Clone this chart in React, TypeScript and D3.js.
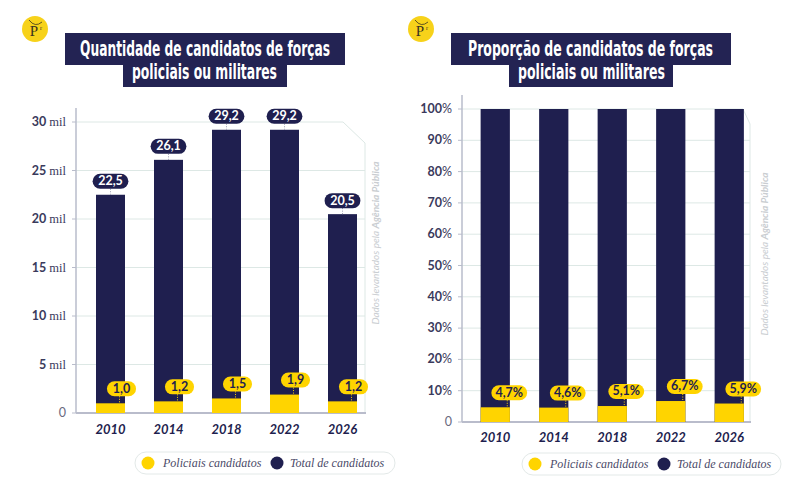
import React from 'react';
import * as d3 from 'd3';

const years = ['2010', '2014', '2018', '2022', '2026'];
const totalCandidatos = [22.5, 26.1, 29.2, 29.2, 20.5]; // mil
const policiaisCandidatos = [1.0, 1.2, 1.5, 1.9, 1.2]; // mil
const proporcaoPoliciais = [4.7, 4.6, 5.1, 6.7, 5.9]; // %
const proporcaoTotal = [100, 100, 100, 100, 100];
const countTicks = [0, 5, 10, 15, 20, 25, 30];
const pctTicks = [0, 10, 20, 30, 40, 50, 60, 70, 80, 90, 100];
const legendLabels = ['Policiais candidatos', 'Total de candidatos'];

const NAVY = '#1f1f4f';
const YELLOW = '#ffd400';
const GRID = '#dde8e5';
const AXIS = '#b9bccb';
const TICK_TXT = '#3a3a5c';

const fmt = (v: number) => v.toFixed(1).replace('.', ',');

const Pill = ({ cx, bottom, label, fill, color }: any) => {
  const w = label.length * 6.7 + 9;
  const h = 15;
  return (
    <g>
      <rect x={cx - w / 2} y={bottom - h} width={w} height={h} rx={h / 2} fill={fill} />
      <text x={cx} y={bottom - 3.6} textAnchor="middle" fontFamily="Lato, sans-serif"
        fontWeight="bold" fontSize={12.5} fill={color}>{label}</text>
    </g>
  );
};

const Logo = ({ cx, cy }: any) => (
  <g>
    <circle cx={cx} cy={cy} r={13} fill="#f7d21a" />
    <path d={`M${cx - 6},${cy - 9} Q${cx},${cy - 1} ${cx + 7},${cy - 7}`} fill="none" stroke="#3a3320" strokeWidth={0.8} />
    <text x={cx - 1} y={cy + 7} textAnchor="middle" fontFamily="'Liberation Serif', serif" fontSize={15} fill="#3a3320">P</text>
    <text x={cx + 6} y={cy + 1} textAnchor="middle" fontFamily="'Liberation Serif', serif" fontSize={6} fill="#3a3320">r</text>
  </g>
);

const Title = ({ box1, box2, line1, line2 }: any) => (
  <g>
    <rect x={box1[0]} y={33} width={box1[1] - box1[0]} height={32} fill="#232353" />
    <rect x={box2[0]} y={64} width={box2[1] - box2[0]} height={23} fill="#232353" />
    <text x={line1[0]} y={56} textLength={line1[1] - line1[0]} lengthAdjust="spacingAndGlyphs"
      fontFamily="'DejaVu Sans Condensed', 'Liberation Sans Narrow', sans-serif" fontWeight="bold"
      fontSize={21} fill="#fff">{line1[2]}</text>
    <text x={line2[0]} y={79} textLength={line2[1] - line2[0]} lengthAdjust="spacingAndGlyphs"
      fontFamily="'DejaVu Sans Condensed', 'Liberation Sans Narrow', sans-serif" fontWeight="bold"
      fontSize={21} fill="#fff">{line2[2]}</text>
  </g>
);

const Legend = ({ x0, x1, y }: any) => {
  const c1 = x0 + 13;
  const c2 = x0 + 142;
  return (
    <g>
      <rect x={x0} y={y - 11} width={x1 - x0} height={22} rx={11} fill="#fff" stroke="#e3e9e8" />
      <circle cx={c1} cy={y} r={6.5} fill={YELLOW} />
      <text x={c1 + 15} y={y + 4} fontFamily="'Liberation Serif', serif" fontStyle="italic" fontSize={12}
        fill="#4a4a68">{legendLabels[0]}</text>
      <circle cx={c2} cy={y} r={6.5} fill={NAVY} />
      <text x={c2 + 13} y={y + 4} fontFamily="'Liberation Serif', serif" fontStyle="italic" fontSize={12}
        fill="#4a4a68">{legendLabels[1]}</text>
    </g>
  );
};

const Source = ({ x, y }: any) => (
  <text transform={`translate(${x},${y}) rotate(-90)`} textAnchor="middle" fontFamily="Lato, sans-serif"
    fontStyle="italic" fontSize={10} fill="#c9cdd1">
    Dados levantados pela <tspan fontWeight="bold">Agência Pública</tspan>
  </text>
);

const Panel = ({ axisX, xRange, yRange, domainMax, ticks, tickLabel, totals, parts, totalLabels,
  partLabels, frameX, frameTopX, frameTopY, pillOffset, yearY }: any) => {
  const x = d3.scaleBand<string>().domain(years).range(xRange).paddingInner(0.5).paddingOuter(0.25);
  const y = d3.scaleLinear().domain([0, domainMax]).range(yRange);
  const bw = x.bandwidth();
  const top = y(domainMax);
  return (
    <g>
      {ticks.map((t: number) => (
        <g key={t}>
          {t > 0 && (
            <line x1={axisX} x2={t === domainMax ? frameTopX : frameX} y1={y(t)} y2={y(t)} stroke={GRID} strokeWidth={1} />
          )}
          <line x1={axisX - 4} x2={axisX} y1={y(t)} y2={y(t)} stroke={AXIS} />
          <text x={axisX - 10} y={y(t) + 4} textAnchor="end" fontSize={12.5} fill={TICK_TXT}>
            {tickLabel(t)}
          </text>
        </g>
      ))}
      <path d={`M${frameTopX},${top} L${frameX},${frameTopY} L${frameX},${y(0)}`} fill="none" stroke={GRID} />
      <line x1={axisX} x2={axisX} y1={top - 14} y2={y(0)} stroke={AXIS} strokeWidth={1.5} />
      <line x1={axisX} x2={frameX + 1} y1={y(0)} y2={y(0)} stroke={AXIS} strokeWidth={2} />
      {years.map((yr, i) => {
        const bx = x(yr) as number;
        const cx = bx + bw / 2;
        return (
          <g key={yr}>
            <rect x={bx} y={y(totals[i])} width={bw} height={y(0) - y(totals[i])} fill={NAVY} />
            <rect x={bx} y={y(parts[i])} width={bw} height={y(0) - y(parts[i])} fill={YELLOW} />
            {totalLabels && (
              <g>
                <line x1={cx} x2={cx} y1={y(totals[i]) - 6} y2={y(totals[i])} stroke="#9a9ab0" strokeDasharray="1,1.5" />
                <Pill cx={cx} bottom={y(totals[i]) - 6} label={totalLabels[i]} fill={NAVY} color="#fff" />
              </g>
            )}
            <line x1={cx + pillOffset - 2} x2={cx + pillOffset - 2} y1={y(parts[i]) - 7} y2={y(parts[i])}
              stroke={YELLOW} strokeDasharray="1,1.5" />
            <Pill cx={cx + pillOffset} bottom={y(parts[i]) - 7} label={partLabels[i]} fill={YELLOW} color={NAVY} />
            <text x={cx} y={yearY} textAnchor="middle" fontFamily="Lato, sans-serif" fontWeight="bold"
              fontStyle="italic" fontSize={13} fill={NAVY}>{yr}</text>
          </g>
        );
      })}
    </g>
  );
};

export default function App() {
  return (
    <svg width={800} height={500} style={{ display: 'block', margin: '-8px', background: '#fff' }}>
      <Logo cx={35} cy={29} />
      <Logo cx={421} cy={29} />
      <Title box1={[65, 345]} box2={[123, 287]}
        line1={[80, 330, 'Quantidade de candidatos de forças']} line2={[132, 277, 'policiais ou militares']} />
      <Title box1={[451, 731]} box2={[509, 673]}
        line1={[468, 713, 'Proporção de candidatos de forças']} line2={[518, 665, 'policiais ou militares']} />

      <Panel axisX={76} xRange={[81.5, 371.5]} yRange={[413, 122]} domainMax={30} ticks={countTicks}
        tickLabel={(t: number) => t === 0 ? <tspan fontFamily="Lato, sans-serif" fill="#6a6a80">0</tspan> : (
          <>
            <tspan fontFamily="Lato, sans-serif" fontWeight="bold">{t}</tspan>
            <tspan fontFamily="'Liberation Serif', serif" dx={3}>mil</tspan>
          </>
        )}
        totals={totalCandidatos} parts={policiaisCandidatos}
        totalLabels={totalCandidatos.map(fmt)} partLabels={policiaisCandidatos.map(fmt)}
        frameX={365} frameTopX={343} frameTopY={143} pillOffset={11} yearY={434} />

      <Panel axisX={462} xRange={[466, 758.5]} yRange={[422, 109]} domainMax={100} ticks={pctTicks}
        tickLabel={(t: number) => t === 0 ? <tspan fontFamily="Lato, sans-serif" fill="#6a6a80">0</tspan> : (
          <>
            <tspan fontFamily="Lato, sans-serif" fontWeight="bold">{t}</tspan>
            <tspan fontFamily="Lato, sans-serif">%</tspan>
          </>
        )}
        totals={proporcaoTotal} parts={proporcaoPoliciais}
        totalLabels={null} partLabels={proporcaoPoliciais.map((v) => fmt(v) + '%')}
        frameX={750} frameTopX={743} frameTopY={124} pillOffset={14} yearY={442} />

      <Source x={379} y={243} />
      <Source x={768} y={254} />
      <Legend x0={135} x1={395} y={463} />
      <Legend x0={522} x1={781} y={464} />
    </svg>
  );
}
